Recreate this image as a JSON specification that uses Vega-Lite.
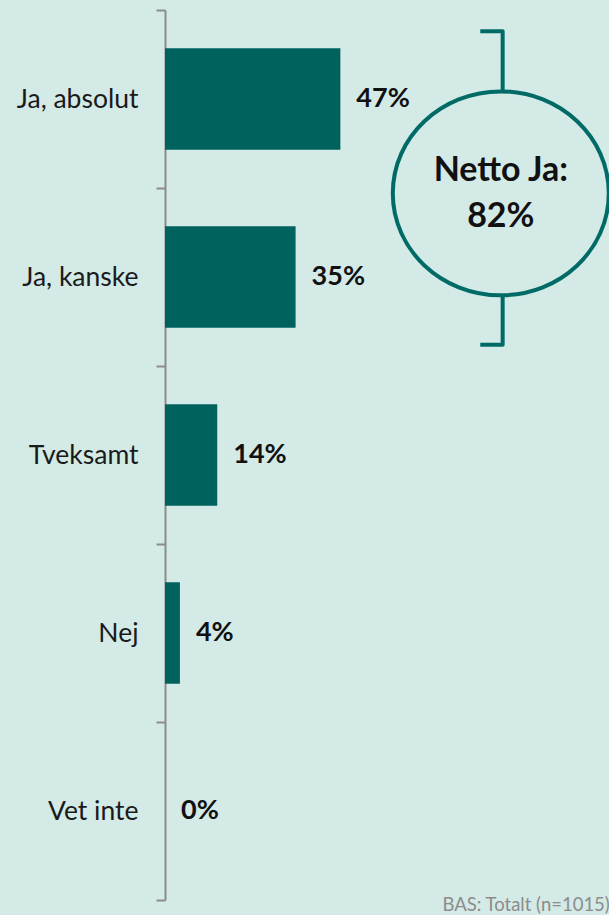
{
  "$schema": "https://vega.github.io/schema/vega-lite/v6.json",
  "autosize": "none",
  "width": 444,
  "height": 890,
  "padding": {"left": 165, "top": 10, "right": 0, "bottom": 15},
  "background": "#d3eae7",
  "title": {"text": "BAS: Totalt (n=1015)", "orient": "bottom", "anchor": "end", "align": "right", "fontSize": 18.5, "font": "Lato", "fontWeight": "normal", "color": "#8c8c8c", "baseline": "alphabetic", "offset": 10, "dx": -7},
  "datasets": {
    "bars": [
      {"svar": "Ja, absolut", "andel": 0.47},
      {"svar": "Ja, kanske", "andel": 0.35},
      {"svar": "Tveksamt", "andel": 0.14},
      {"svar": "Nej", "andel": 0.04},
      {"svar": "Vet inte", "andel": 0}
    ],
    "bracket": [
      {"ordning": 1, "x": 0.845, "y": 0.12},
      {"ordning": 2, "x": 0.905, "y": 0.12},
      {"ordning": 3, "x": 0.905, "y": 1.88},
      {"ordning": 4, "x": 0.845, "y": 1.88}
    ],
    "circle": [{"x": 0.9, "y": 1.03}],
    "netto": [
      {"x": 0.9, "y": 0.905, "text": "Netto Ja:"},
      {"x": 0.9, "y": 1.165, "text": "82%"}
    ]
  },
  "layer": [
    {
      "data": {"name": "bars"},
      "encoding": {
        "y": {"field": "svar", "type": "nominal", "sort": null,
              "scale": {"paddingInner": 0, "paddingOuter": 0},
              "axis": {"title": null, "domainColor": "#8c8c8c", "domainWidth": 2, "tickColor": "#8c8c8c", "tickWidth": 2, "tickSize": 9, "tickBand": "extent", "labelFontSize": 26.5, "labelFont": "Lato", "labelColor": "#1a1a1a", "labelPadding": 18, "labelLimit": 200}},
        "x": {"field": "andel", "type": "quantitative", "scale": {"domain": [0, 1.19]}, "axis": null}
      },
      "layer": [
        {"mark": {"type": "bar", "color": "#00625d", "height": {"band": 0.57}}},
        {"mark": {"type": "text", "align": "left", "baseline": "middle", "dx": 16, "fontSize": 27, "fontWeight": "bold", "font": "Lato", "color": "#111111"},
         "encoding": {"text": {"field": "andel", "type": "quantitative", "format": ".0%"}}}
      ]
    },
    {
      "layer": [
        {
          "data": {"name": "bracket"},
          "mark": {"type": "line", "color": "#006b66", "strokeWidth": 4, "strokeJoin": "round", "strokeCap": "butt"},
          "encoding": {
            "x": {"field": "x", "type": "quantitative", "scale": {"domain": [0, 1.19]}, "axis": null},
            "y": {"field": "y", "type": "quantitative", "scale": {"domain": [0, 5], "reverse": true}, "axis": null},
            "order": {"field": "ordning"}
          }
        },
        {
          "data": {"name": "circle"},
          "mark": {"type": "point", "shape": "M-1,0A1,0.944,0,1,0,1,0A1,0.944,0,1,0,-1,0Z", "size": 46656, "fill": "#d3eae7", "fillOpacity": 1, "opacity": 1, "stroke": "#006b66", "strokeWidth": 4},
          "encoding": {
            "x": {"field": "x", "type": "quantitative", "scale": {"domain": [0, 1.19]}, "axis": null},
            "y": {"field": "y", "type": "quantitative", "scale": {"domain": [0, 5], "reverse": true}, "axis": null}
          }
        },
        {
          "data": {"name": "netto"},
          "mark": {"type": "text", "align": "center", "baseline": "middle", "fontSize": 34, "fontWeight": "bold", "font": "Lato", "color": "#111111"},
          "encoding": {
            "x": {"field": "x", "type": "quantitative", "scale": {"domain": [0, 1.19]}, "axis": null},
            "y": {"field": "y", "type": "quantitative", "scale": {"domain": [0, 5], "reverse": true}, "axis": null},
            "text": {"field": "text", "type": "nominal"}
          }
        }
      ]
    }
  ],
  "resolve": {"scale": {"y": "independent"}},
  "config": {"view": {"stroke": null}}
}
